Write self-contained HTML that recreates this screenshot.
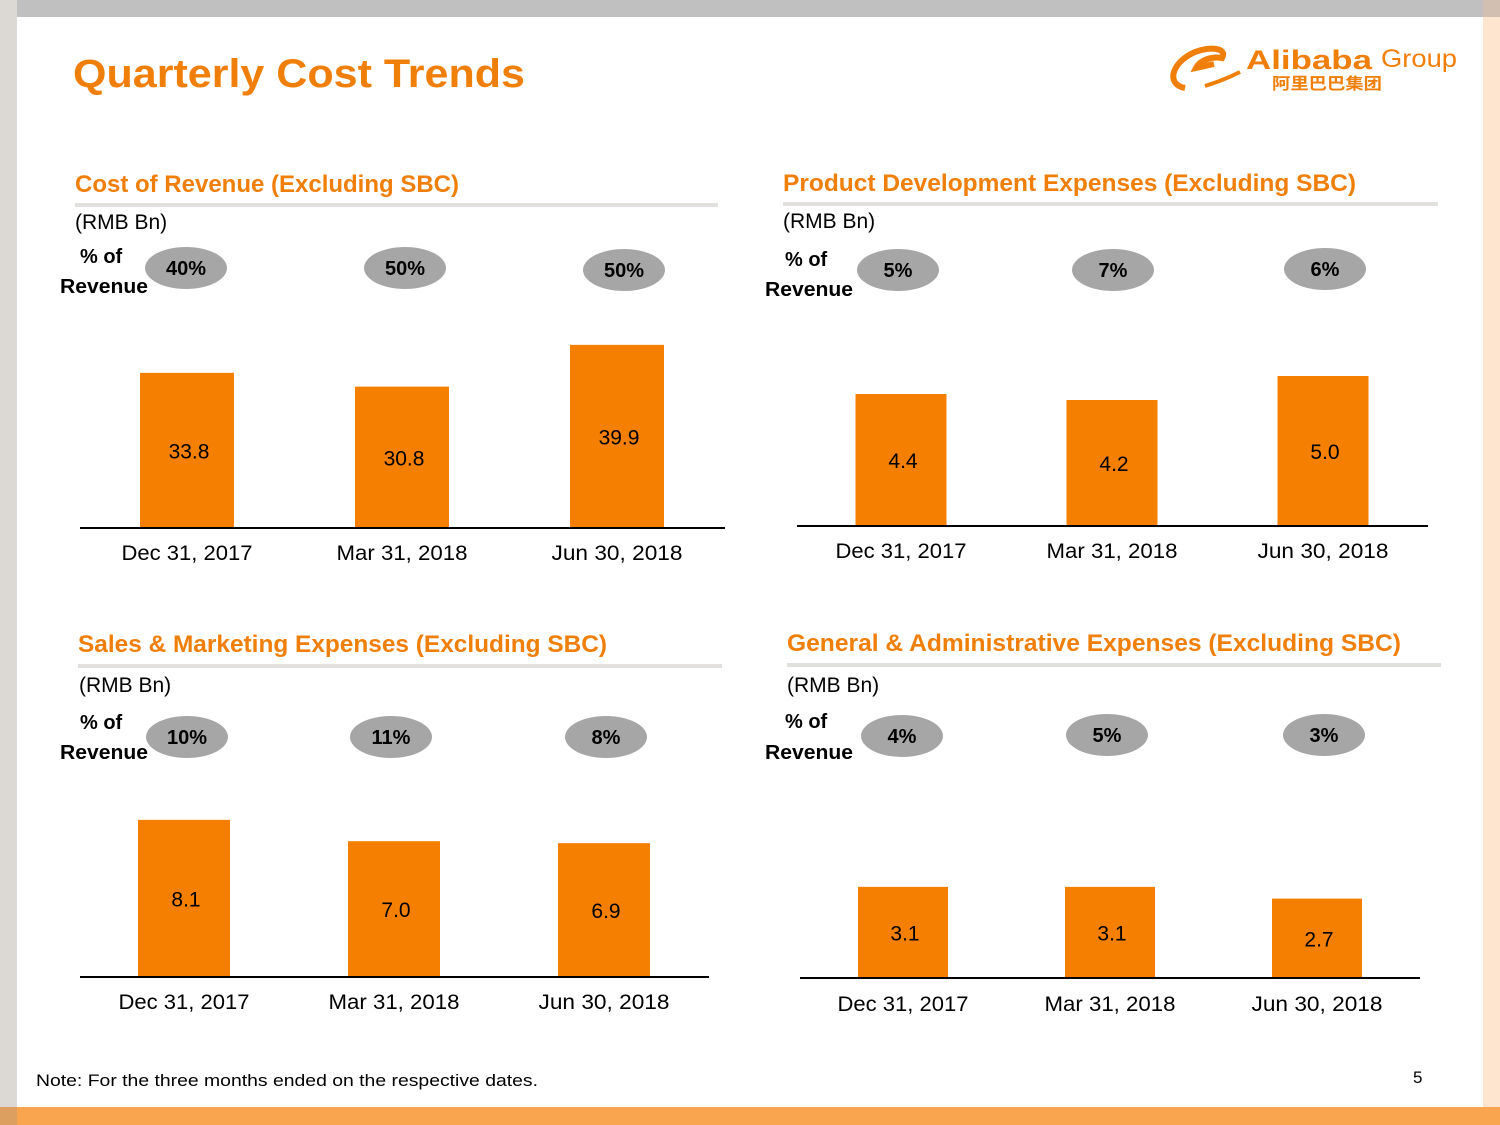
<!DOCTYPE html>
<html><head><meta charset="utf-8"><style>
html,body{margin:0;padding:0;background:#fff}
svg{display:block}
text{font-family:"Liberation Sans","Noto Sans CJK SC",sans-serif}
</style></head><body>
<svg id="s" width="1500" height="1125" viewBox="0 0 1500 1125" xmlns="http://www.w3.org/2000/svg">
<rect x="0" y="0" width="1500" height="1125" fill="#fff"/>
<rect x="0" y="0" width="1500" height="17" fill="#c0c0c0"/>
<rect x="0" y="0" width="17" height="1107" fill="#dcd8d3"/>
<rect x="1483" y="0" width="17" height="17" fill="#d2bfb2"/>
<rect x="1483" y="17" width="17" height="1090" fill="#fde5d0"/>
<rect x="0" y="1107" width="1500" height="18" fill="#f9a54f"/>
<rect x="0" y="1107" width="17" height="18" fill="#dd9f60"/>
<text x="73" y="87" font-size="40" font-weight="bold" fill="#f07f09" textLength="452" lengthAdjust="spacingAndGlyphs">Quarterly Cost Trends</text>
<g>
<path d="M1185,88 C1165,84 1172,62 1195,52 C1210,46 1228,48 1222,58 C1212,56 1200,60 1196,68 L1214,64" fill="none" stroke="#f07f09" stroke-width="6"/>
<path d="M1205,86 C1218,82 1228,78 1240,72" fill="none" stroke="#f07f09" stroke-width="4"/>
<text x="1246" y="69" font-size="27" font-weight="bold" fill="#f07f09" textLength="126" lengthAdjust="spacingAndGlyphs">Alibaba</text>
<text x="1381" y="67" font-size="25" fill="#f07f09" textLength="76" lengthAdjust="spacingAndGlyphs">Group</text>
<text x="1272" y="89" font-size="16" font-weight="bold" fill="#f07f09" font-family="Noto Sans CJK SC, sans-serif" textLength="110" lengthAdjust="spacingAndGlyphs">阿里巴巴集团</text>
</g>
<text x="36" y="1086" font-size="17" fill="#000" textLength="502" lengthAdjust="spacingAndGlyphs">Note:  For the three months ended on the respective dates.</text>
<text x="1413" y="1083" font-size="17" fill="#000">5</text>
<g id="charts"></g>
</svg>
<script>
const categories = ["Dec 31, 2017","Mar 31, 2018","Jun 30, 2018"];
const titles = ["Cost of Revenue (Excluding SBC)","Product Development Expenses (Excluding SBC)","Sales & Marketing Expenses (Excluding SBC)","General & Administrative Expenses (Excluding SBC)"];
const costOfRevenue = [33.8, 30.8, 39.9];
const productDev = [4.4, 4.2, 5.0];
const salesMarketing = [8.1, 7.0, 6.9];
const generalAdmin = [3.1, 3.1, 2.7];
const valueLabels = [["33.8","30.8","39.9"],["4.4","4.2","5.0"],["8.1","7.0","6.9"],["3.1","3.1","2.7"]];
const pctRevenue = [["40%","50%","50%"],["5%","7%","6%"],["10%","11%","8%"],["4%","5%","3%"]];
const seriesAll = [costOfRevenue, productDev, salesMarketing, generalAdmin];
const panelNames = ["cost-of-revenue","product-development","sales-marketing","general-admin"];

// layout (not data)
const L = [
 {tx:75,ty:192,tl:384,ux0:75,ux1:718,uy:205,rx:75,ry:229,px:[186,405,624],pyl:[268,268,270],ofx:80,ofy:263,rvx:60,rvy:293,bx:[187,402,617],bw:94,base:528,ax0:80,ax1:725,ppu:4.59,ly:560},
 {tx:783,ty:191,tl:573,ux0:783,ux1:1438,uy:204,rx:783,ry:228,px:[898,1113,1325],pyl:[270,270,269],ofx:785,ofy:266,rvx:765,rvy:296,bx:[901,1112,1323],bw:91,base:526,ax0:797,ax1:1428,ppu:30,ly:558},
 {tx:78,ty:652,tl:529,ux0:78,ux1:722,uy:666,rx:79,ry:692,px:[187,391,606],pyl:[737,737,737],ofx:80,ofy:729,rvx:60,rvy:759,bx:[184,394,604],bw:92,base:977,ax0:80,ax1:709,ppu:19.4,ly:1009},
 {tx:787,ty:651,tl:614,ux0:787,ux1:1441,uy:665,rx:787,ry:692,px:[902,1107,1324],pyl:[736,735,735],ofx:785,ofy:728,rvx:765,rvy:759,bx:[903,1110,1317],bw:90,base:978,ax0:800,ax1:1420,ppu:29.4,ly:1011}
];
const NS="http://www.w3.org/2000/svg";
const root=document.getElementById('charts');
function mk(tag,attrs,parent,txt){const e=document.createElementNS(NS,tag);for(const k in attrs)e.setAttribute(k,attrs[k]);if(txt!==undefined)e.textContent=txt;parent.appendChild(e);return e;}
seriesAll.forEach((vals,p)=>{
  const c=L[p];
  const g=mk('g',{},root);
  
  
  const yScale=v=>c.base-v*c.ppu;
  const t=mk('text',{x:c.tx,y:c.ty,'font-size':24,'font-weight':'bold',fill:'#f07f09',textLength:c.tl,lengthAdjust:'spacingAndGlyphs'},g,titles[p]);
  
  
  const u=mk('rect',{x:c.ux0,y:c.uy-2,width:c.ux1-c.ux0,height:4,fill:'#e2e0dd'},g);
  
  
  const r=mk('text',{x:c.rx,y:c.ry,'font-size':21,fill:'#000'},g,'(RMB Bn)');
  
  
  const o=mk('text',{x:c.ofx,y:c.ofy,'font-size':20,'font-weight':'bold',fill:'#000'},g,'% of');
  
  
  const rv=mk('text',{x:c.rvx,y:c.rvy,'font-size':20,'font-weight':'bold',fill:'#000',textLength:88,lengthAdjust:'spacingAndGlyphs'},g,'Revenue');
  
  
  vals.forEach((v,i)=>{
    const bar=mk('rect',{x:c.bx[i]-c.bw/2,y:yScale(v),width:c.bw,height:c.base-yScale(v),fill:'#f57f00'},g);
    
    
    const vl=mk('text',{x:c.bx[i]+2,y:(yScale(v)+c.base)/2+8,'font-size':21,fill:'#000','text-anchor':'middle'},g,valueLabels[p][i]);
    
    
    const el=mk('ellipse',{cx:c.px[i],cy:c.pyl[i],rx:41,ry:21,fill:'#a6a6a6'},g);
    
    
    const pt=mk('text',{x:c.px[i],y:c.pyl[i]+7,'font-size':20,'font-weight':'bold',fill:'#000','text-anchor':'middle'},g,pctRevenue[p][i]);
    
    
    const xl=mk('text',{x:c.bx[i],y:c.ly,'font-size':21,fill:'#000','text-anchor':'middle',textLength:131,lengthAdjust:'spacingAndGlyphs'},g,categories[i]);
    
    
  });
  const ax=mk('line',{x1:c.ax0,x2:c.ax1,y1:c.base,y2:c.base,stroke:'#000','stroke-width':2},g);
  
  
});
</script>
</body></html>
